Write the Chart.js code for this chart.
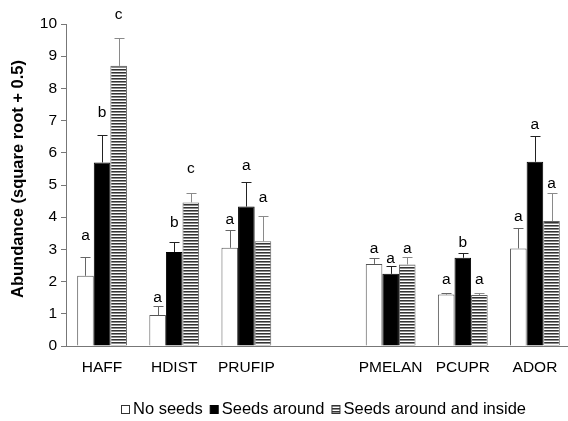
<!DOCTYPE html>
<html>
<head>
<meta charset="utf-8">
<script src="https://cdn.jsdelivr.net/npm/chart.js@4/dist/chart.umd.min.js"></script>
<style>
  html, body { margin: 0; padding: 0; background: #fff; overflow: hidden; }
  #wrap { width: 572px; height: 421px; }
</style>
</head>
<body>
<div id="wrap"><canvas id="c" width="572" height="421"></canvas></div>
<script>
// ---- data ----
const categories = ['HAFF', 'HDIST', 'PRUFIP', '', 'PMELAN', 'PCUPR', 'ADOR'];
const seriesNames = ['No seeds', 'Seeds around', 'Seeds around and inside'];

const noSeeds      = [2.18, 0.96, 3.05, null, 2.55, 1.60, 3.03];
const noSeedsSE    = [0.57, 0.29, 0.55, null, 0.18, 0.06, 0.65];
const seedsAround   = [5.70, 2.92, 4.33, null, 2.24, 2.74, 5.72];
const seedsAroundSE = [0.86, 0.31, 0.75, null, 0.23, 0.14, 0.79];
const seedsInside   = [8.70, 4.46, 3.25, null, 2.53, 1.58, 3.88];
const seedsInsideSE = [0.87, 0.29, 0.79, null, 0.23, 0.08, 0.87];

// significance letters and the height (axis units) at which each is printed
const noSeedsLetters     = ['a', 'a', 'a', '', 'a', 'a', 'a'];
const seedsAroundLetters = ['b', 'b', 'a', '', 'a', 'b', 'a'];
const seedsInsideLetters = ['c', 'c', 'a', '', 'a', 'a', 'a'];
const noSeedsLetterAt     = [3.42, 1.50, 3.91, null, 3.03, 2.07, 4.02];
const seedsAroundLetterAt = [7.25, 3.83, 5.60, null, 2.72, 3.21, 6.86];
const seedsInsideLetterAt = [10.28, 5.52, 4.60, null, 3.03, 2.07, 5.05];

const yTicks = [0, 1, 2, 3, 4, 5, 6, 7, 8, 9, 10];
const yTitle = 'Abundance (square root + 0.5)';

// ---- styling ----
const FONT = "'Liberation Sans', Arial, Helvetica, sans-serif";

function stripePattern() {
  const p = document.createElement('canvas');
  p.width = 4; p.height = 3;
  const g = p.getContext('2d');
  g.fillStyle = '#ffffff'; g.fillRect(0, 0, 4, 3);
  g.fillStyle = '#333333'; g.fillRect(0, 0, 4, 1);
  g.fillStyle = '#8c8c8c'; g.fillRect(0, 1, 4, 1);
  return document.getElementById('c').getContext('2d').createPattern(p, 'repeat');
}
const stripes = stripePattern();

const errColors = ['#666666', '#222222', '#8a8a8a'];
const seErrs = [noSeedsSE, seedsAroundSE, seedsInsideSE];
const letters = [noSeedsLetters, seedsAroundLetters, seedsInsideLetters];
const letterAt = [noSeedsLetterAt, seedsAroundLetterAt, seedsInsideLetterAt];

const errorBarPlugin = {
  id: 'errorBars',
  afterDatasetsDraw(chart) {
    const ctx = chart.ctx;
    const y = chart.scales.y;
    ctx.save();
    chart.data.datasets.forEach((ds, di) => {
      const meta = chart.getDatasetMeta(di);
      meta.data.forEach((bar, i) => {
        const v = ds.data[i];
        if (v === null || v === undefined) return;
        const top = y.getPixelForValue(v + seErrs[di][i]);
        const x = Math.round(bar.x) + 0.5;
        ctx.strokeStyle = errColors[di];
        ctx.lineWidth = 1;
        ctx.beginPath();
        ctx.moveTo(x, bar.y);
        ctx.lineTo(x, Math.round(top) + 0.5);
        ctx.moveTo(x - 5, Math.round(top) + 0.5);
        ctx.lineTo(x + 5, Math.round(top) + 0.5);
        ctx.stroke();
        const L = letters[di][i];
        if (L) {
          ctx.fillStyle = '#000';
          ctx.font = '15.5px ' + FONT;
          ctx.textAlign = 'center';
          ctx.textBaseline = 'middle';
          ctx.fillText(L, bar.x, y.getPixelForValue(letterAt[di][i]));
        }
      });
    });
    ctx.restore();
  }
};

const yTitlePlugin = {
  id: 'yTitle',
  afterDraw(chart) {
    const ctx = chart.ctx;
    const area = chart.chartArea;
    ctx.save();
    ctx.translate(18, (area.top + area.bottom) / 2 - 6);
    ctx.rotate(-Math.PI / 2);
    ctx.font = 'bold 16.5px ' + FONT;
    ctx.fillStyle = '#000';
    ctx.textAlign = 'center';
    ctx.textBaseline = 'middle';
    ctx.fillText(yTitle, 0, 0);
    ctx.restore();
  }
};

const legendPlugin = {
  id: 'customLegend',
  afterDraw(chart) {
    const ctx = chart.ctx;
    const area = chart.chartArea;
    ctx.save();
    ctx.font = '16.5px ' + FONT;
    const box = 9, gapBT = 3, gapItem = 7;
    const widths = seriesNames.map(n => ctx.measureText(n).width);
    let total = 0;
    widths.forEach((w, i) => { total += box + gapBT + w + (i < widths.length - 1 ? gapItem : 0); });
    let x = Math.round((area.left + area.right) / 2 - total / 2 + 5);
    const cy = 409;
    chart.data.datasets.forEach((ds, i) => {
      const bx = x + 0.5, by = Math.round(cy - box / 2) + 0.5;
      ctx.fillStyle = ds.backgroundColor;
      ctx.fillRect(bx, by, box - 1, box - 1);
      ctx.strokeStyle = i === 1 ? '#000' : '#333';
      ctx.lineWidth = 1;
      ctx.strokeRect(bx, by, box - 1, box - 1);
      ctx.fillStyle = '#000';
      ctx.textAlign = 'left';
      ctx.textBaseline = 'middle';
      ctx.fillText(seriesNames[i], x + box + gapBT, cy);
      x += box + gapBT + widths[i] + gapItem;
    });
    ctx.restore();
  }
};

new Chart(document.getElementById('c'), {
  type: 'bar',
  data: {
    labels: categories,
    datasets: [
      { label: seriesNames[0], data: noSeeds, backgroundColor: '#ffffff', borderColor: '#555555', borderWidth: 1 },
      { label: seriesNames[1], data: seedsAround, backgroundColor: '#000000', borderColor: '#000000', borderWidth: 1 },
      { label: seriesNames[2], data: seedsInside, backgroundColor: stripes, borderColor: '#666666', borderWidth: 1 }
    ]
  },
  options: {
    responsive: false,
    animation: false,
    devicePixelRatio: 1,
    categoryPercentage: 0.69,
    barPercentage: 1.0,
    layout: { padding: { top: 24, right: 1, left: 0, bottom: 0 } },
    plugins: { legend: { display: false }, tooltip: { enabled: false } },
    scales: {
      x: {
        grid: { display: false, drawTicks: false },
        border: { display: true, color: '#777777', width: 1 },
        ticks: { color: '#000', font: { family: FONT, size: 15.5 }, padding: 12, maxRotation: 0, autoSkip: false },
        afterFit(s) { s.height = 75; }
      },
      y: {
        min: 0, max: 10,
        afterBuildTicks(s) { s.ticks = yTicks.map(v => ({ value: v })); },
        grid: { display: true, drawOnChartArea: false, drawTicks: true, tickLength: 5, color: '#777777' },
        border: { display: true, color: '#777777', width: 1 },
        ticks: { color: '#000', font: { family: FONT, size: 15.5 }, padding: 4 },
        title: { display: false },
        afterFit(s) { s.width = 66; }
      }
    }
  },
  plugins: [errorBarPlugin, yTitlePlugin, legendPlugin]
});
</script>
</body>
</html>
